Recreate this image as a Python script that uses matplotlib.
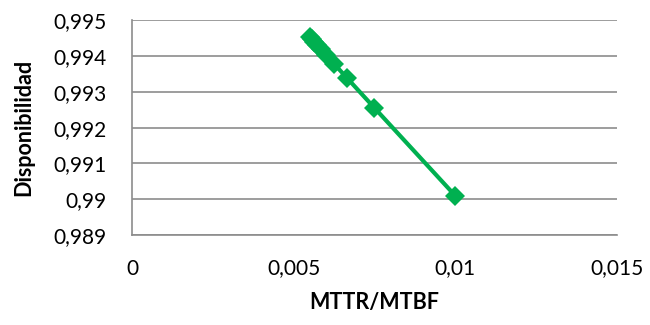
import matplotlib
matplotlib.use("Agg")
import matplotlib.pyplot as plt
from matplotlib.ticker import FuncFormatter

# Availability versus MTTR/MTBF ratio
mttr_mtbf = [0.01, 0.0075, 0.006667, 0.00625, 0.006, 0.005833,
             0.005714, 0.005625, 0.005556, 0.0055]
disponibilidad = [0.990099, 0.992556, 0.993377, 0.993789, 0.994036,
                  0.994200, 0.994318, 0.994406, 0.994475, 0.994530]

x_ticks = [0, 0.005, 0.01, 0.015]
y_ticks = [0.989, 0.990, 0.991, 0.992, 0.993, 0.994, 0.995]

plt.rcParams['font.family'] = ['Lato', 'DejaVu Sans']

fig = plt.figure(figsize=(6.5, 3.25), dpi=100)
ax = fig.add_axes([0.203, 0.277, 0.746, 0.66])

green = '#00B050'
ax.plot(mttr_mtbf, disponibilidad, color=green, linewidth=3.0,
        marker='D', markersize=10.5, markeredgewidth=0, zorder=3,
        clip_on=False)

ax.set_xlim(x_ticks[0], x_ticks[-1])
ax.set_ylim(y_ticks[0], y_ticks[-1])
ax.set_xticks(x_ticks)
ax.set_yticks(y_ticks)


def comma_fmt(v, pos=None):
    s = f"{v:.3f}".rstrip('0').rstrip('.')
    return s.replace('.', ',')


ax.xaxis.set_major_formatter(FuncFormatter(comma_fmt))
ax.yaxis.set_major_formatter(FuncFormatter(comma_fmt))

ax.grid(axis='y', color='#8c8c8c', linewidth=1.2)
ax.set_axisbelow(True)
for side in ('top', 'right'):
    ax.spines[side].set_visible(False)
for side in ('left', 'bottom'):
    ax.spines[side].set_color('#8c8c8c')
    ax.spines[side].set_linewidth(1.2)

ax.tick_params(axis='both', length=0, labelsize=15, colors='black')
ax.tick_params(axis='y', pad=18)
ax.tick_params(axis='x', pad=17)

ax.set_xlabel('MTTR/MTBF', fontsize=15.5, fontweight='bold', labelpad=10)
ax.set_ylabel('Disponibilidad', fontsize=15.5, fontweight='bold', labelpad=14)

fig.savefig('out.png', dpi=100)
